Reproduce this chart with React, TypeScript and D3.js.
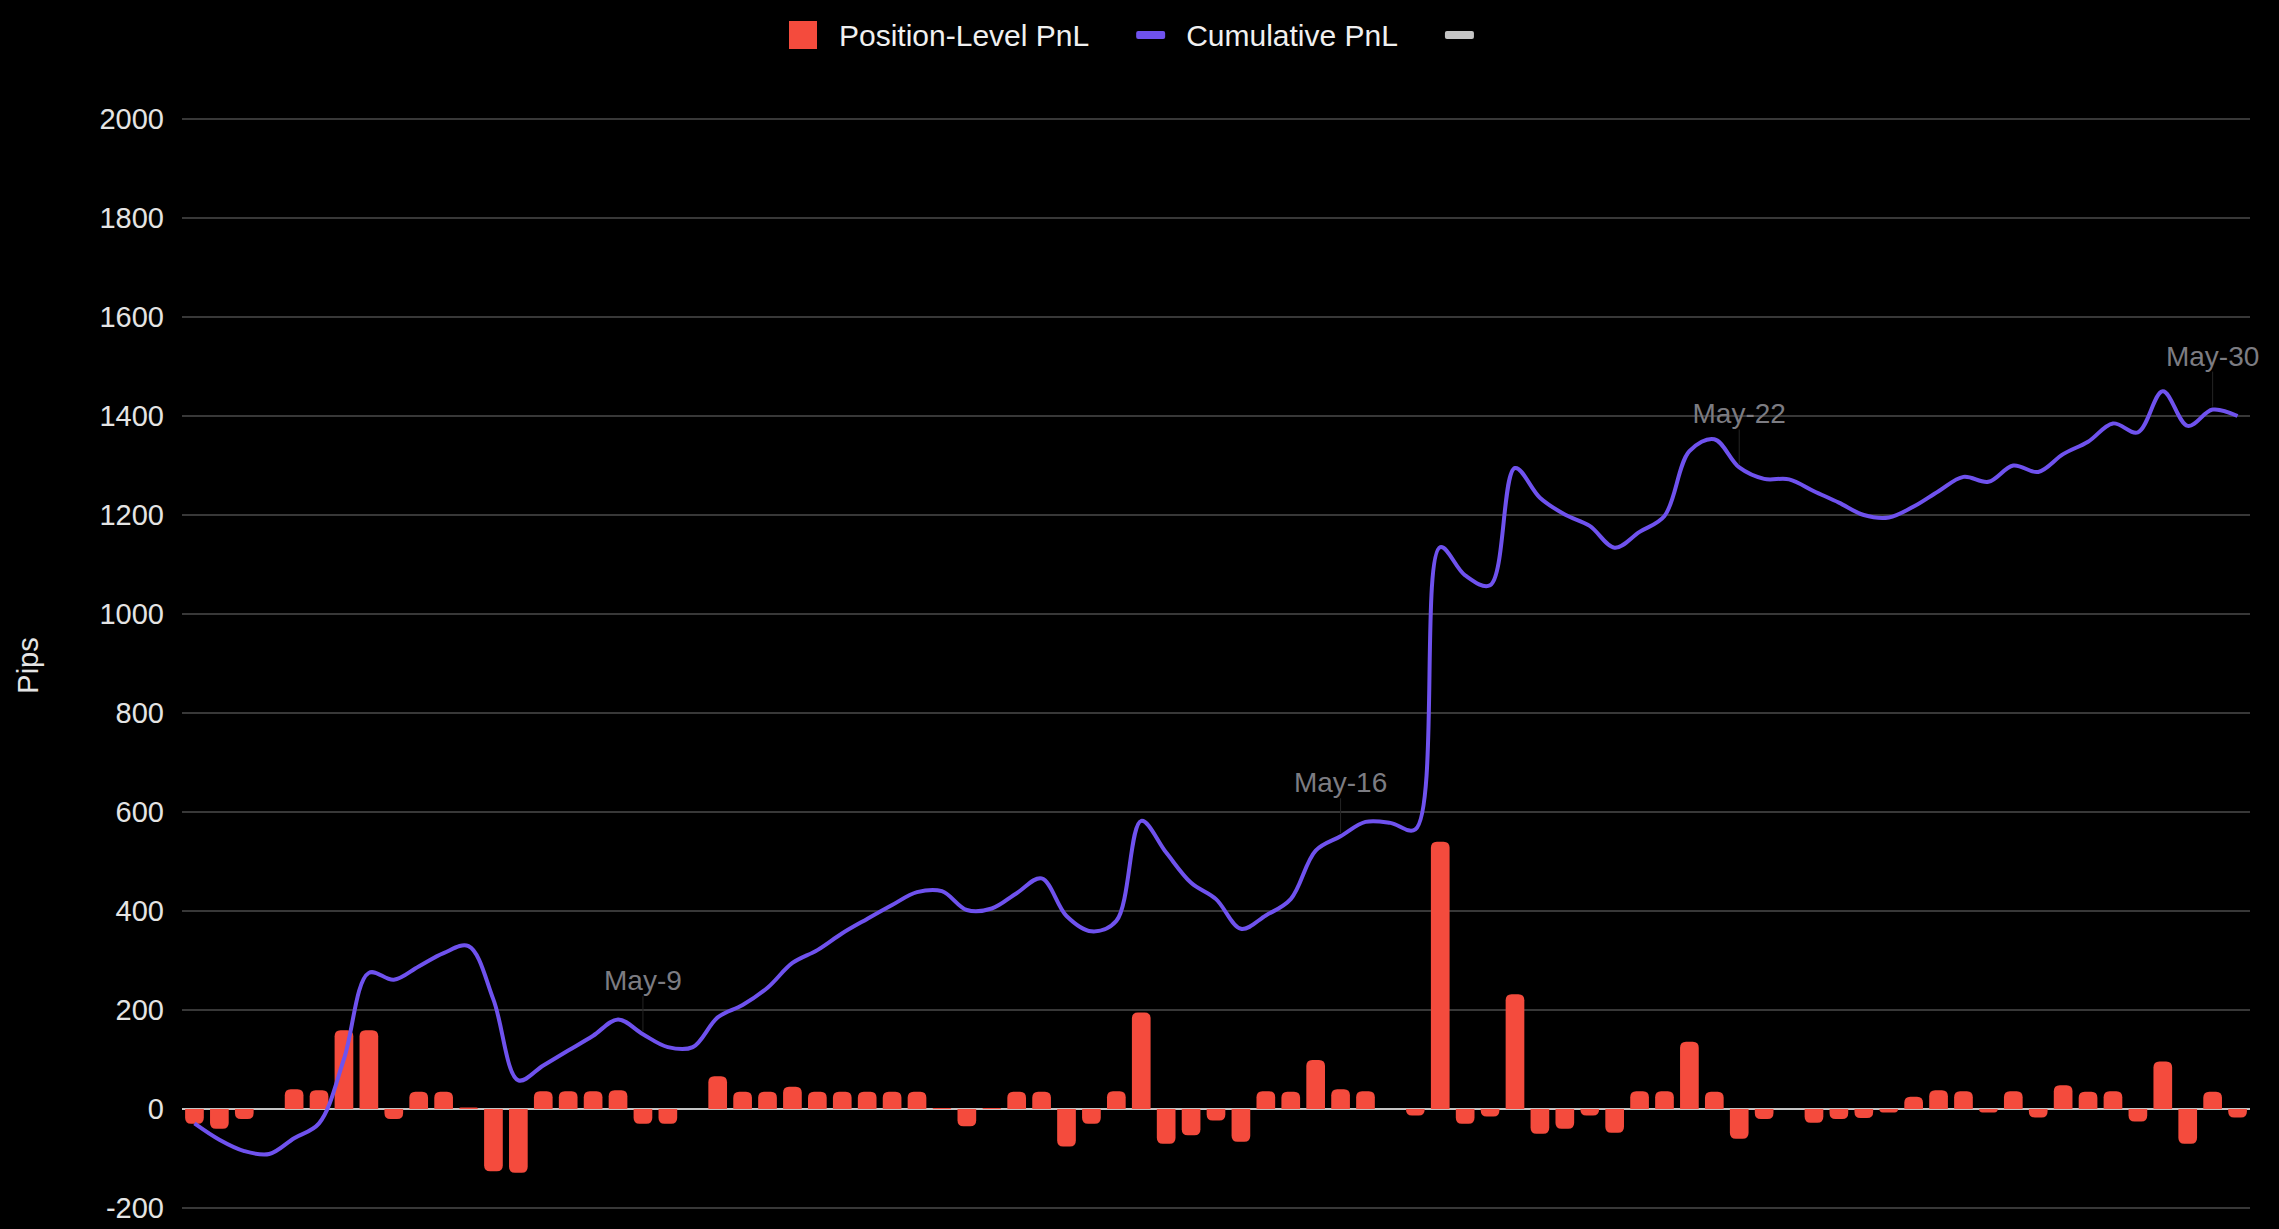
import React, { useEffect, useRef } from "react";
import * as d3 from "d3";

const WIDTH = 2279;
const HEIGHT = 1229;

// per-position PnL in pips, one bar per closed position
const positionPnl = [
  -30, -40, -20, 0, 40, 38, 159, 159, -20, 35,
  35, 3, -126, -129, 36, 36, 36, 38, -30, -30,
  0, 66, 35, 35, 45, 35, 35, 35, 35, 35,
  2, -35, 2, 35, 35, -76, -30, 36, 195, -70,
  -53, -23, -66, 36, 35, 99, 40, 36, 0, -13,
  540, -30, -15, 232, -50, -40, -13, -48, 36, 36,
  136, 35, -60, -20, 0, -28, -20, -18, -7, 25,
  38, 36, -7, 36, -17, 48, 35, 36, -25, 96,
  -70, 35, -17,
];

// running total
const cumulativePnl = [
  -29, -62, -85, -91, -59, -29, 101, 275, 261, 288,
  315, 329, 221, 58, 88, 118, 148, 181, 151, 125,
  125, 185, 210, 245, 295, 321, 355, 384, 412, 438,
  440, 402, 405, 436, 466, 390, 359, 380, 582, 518,
  457, 424, 364, 391, 424, 522, 551, 580, 578, 565,
  1135, 1078, 1058, 1295, 1235, 1201, 1178, 1134, 1166, 1198,
  1329, 1353, 1296, 1273, 1272, 1248, 1225, 1200, 1195, 1217,
  1248, 1277, 1267, 1300, 1287, 1323, 1348, 1385, 1367, 1450,
  1380, 1413, 1400,
];

const yTicks = [-200, 0, 200, 400, 600, 800, 1000, 1200, 1400, 1600, 1800, 2000];

const legendLabels = ["Position-Level PnL", "Cumulative PnL", ""];
const legendColors = ["#f44b3d", "#6f52ee", "#c4c4c4"];

// date markers placed on the cumulative curve (1-based position number)
const markPositions = [19, 47, 63, 82];
const markLabels = ["May-9", "May-16", "May-22", "May-30"];

const FONT = "'Liberation Sans', Arial, Helvetica, sans-serif";

function barPath(x: number, w: number, yBase: number, yEnd: number, r: number) {
  const h = Math.abs(yEnd - yBase);
  const rr = Math.min(r, h, w / 2);
  if (yEnd <= yBase) {
    // positive bar, round top corners
    return `M${x},${yBase}V${yEnd + rr}Q${x},${yEnd} ${x + rr},${yEnd}H${x + w - rr}Q${x + w},${yEnd} ${x + w},${yEnd + rr}V${yBase}Z`;
  }
  return `M${x},${yBase}V${yEnd - rr}Q${x},${yEnd} ${x + rr},${yEnd}H${x + w - rr}Q${x + w},${yEnd} ${x + w},${yEnd - rr}V${yBase}Z`;
}

const App = () => {
  const svgRef = useRef<SVGSVGElement>(null);

  useEffect(() => {
    document.body.style.margin = "0";
    document.body.style.background = "#000";

    const left = 182;
    const right = 2250;
    const top = 119;
    const bottom = 1208;

    const idx = d3.range(positionPnl.length);

    const x = d3
      .scaleBand<number>()
      .domain(idx)
      .range([left, right])
      .paddingInner(0.25)
      .paddingOuter(0.125);

    const y = d3.scaleLinear().domain([-200, 2000]).range([bottom, top]);

    const cx = (i: number) => (x(i) as number) + x.bandwidth() / 2;

    const svg = d3.select(svgRef.current);
    svg.selectAll("*").remove();

    svg
      .append("rect")
      .attr("width", WIDTH)
      .attr("height", HEIGHT)
      .attr("fill", "#000");

    // grid
    const grid = svg.append("g");
    grid
      .selectAll("line")
      .data(yTicks)
      .enter()
      .append("line")
      .attr("x1", left)
      .attr("x2", right)
      .attr("y1", (d) => y(d))
      .attr("y2", (d) => y(d))
      .attr("stroke", (d) => (d === 0 ? "#c4c4c4" : "#383838"))
      .attr("stroke-width", 2);

    // y axis via d3 axis, then restyle
    const axis = svg
      .append("g")
      .attr("transform", `translate(${left - 18},0)`)
      .call(
        d3
          .axisLeft(y)
          .tickValues(yTicks)
          .tickSize(0)
          .tickPadding(0)
          .tickFormat((d: any) => String(d))
      );
    axis.select(".domain").remove();
    axis
      .selectAll("text")
      .attr("fill", "#e4e4e4")
      .attr("font-family", FONT)
      .attr("font-size", 29);

    svg
      .append("text")
      .attr("transform", `translate(38,${(top + bottom) / 2 + 2}) rotate(-90)`)
      .attr("text-anchor", "middle")
      .attr("fill", "#e4e4e4")
      .attr("font-family", FONT)
      .attr("font-size", 29)
      .text("Pips");

    // bars
    svg
      .append("g")
      .selectAll("path")
      .data(idx.filter((i) => positionPnl[i] !== 0))
      .enter()
      .append("path")
      .attr("d", (i) =>
        barPath(x(i) as number, x.bandwidth(), y(0), y(positionPnl[i]), 6)
      )
      .attr("fill", legendColors[0]);

    // cumulative line
    const line = d3
      .line<number>()
      .x((_, i) => cx(i))
      .y((d) => y(d))
      .curve(d3.curveCatmullRom.alpha(0.5));

    svg
      .append("path")
      .datum(cumulativePnl)
      .attr("d", line)
      .attr("fill", "none")
      .attr("stroke", legendColors[1])
      .attr("stroke-width", 4)
      .attr("stroke-linejoin", "round");

    // date markers
    const marks = svg.append("g");
    markPositions.forEach((p, k) => {
      const px = cx(p - 1);
      const py = y(cumulativePnl[p - 1]);
      marks
        .append("line")
        .attr("x1", px)
        .attr("x2", px)
        .attr("y1", py - 38)
        .attr("y2", py - 3)
        .attr("stroke", "#242424")
        .attr("stroke-width", 1);
      marks
        .append("text")
        .attr("x", px)
        .attr("y", py - 44)
        .attr("text-anchor", "middle")
        .attr("fill", "#7c7c82")
        .attr("font-family", FONT)
        .attr("font-size", 28)
        .text(markLabels[k]);
    });

    // legend
    const legend = svg.append("g");
    let lx = 789;
    legendLabels.forEach((label, k) => {
      if (k === 0) {
        legend
          .append("rect")
          .attr("x", lx)
          .attr("y", 21)
          .attr("width", 28)
          .attr("height", 28)
          .attr("fill", legendColors[k]);
      } else {
        legend
          .append("rect")
          .attr("x", lx)
          .attr("y", 31)
          .attr("width", 29)
          .attr("height", 8)
          .attr("rx", 2)
          .attr("fill", legendColors[k]);
      }
      lx += 50;
      if (label) {
        const t = legend
          .append("text")
          .attr("x", lx)
          .attr("y", 35)
          .attr("dy", "0.35em")
          .attr("fill", "#f0f0f0")
          .attr("font-family", FONT)
          .attr("font-size", 30)
          .text(label);
        const w = (t.node() as SVGTextElement).getComputedTextLength();
        lx += w + 47;
      }
    });
  }, []);

  return (
    <svg
      ref={svgRef}
      width={WIDTH}
      height={HEIGHT}
      style={{ position: "absolute", left: 0, top: 0, display: "block" }}
    ></svg>
  );
};

export default App;
